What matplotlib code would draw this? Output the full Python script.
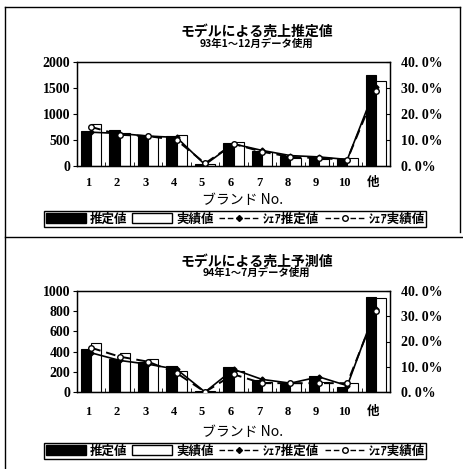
import matplotlib
matplotlib.use("Agg")
import matplotlib.pyplot as plt
from matplotlib.lines import Line2D
from matplotlib.patches import Patch
import numpy as np

plt.rcParams['font.family'] = ['Noto Sans CJK JP', 'DejaVu Sans']

categories = ['1', '2', '3', '4', '5', '6', '7', '8', '9', '10', '他']

# Panel 1: 93年1～12月
est1 = [680, 690, 600, 580, 30, 435, 290, 200, 150, 140, 1745]
act1 = [800, 640, 580, 590, 40, 465, 270, 160, 130, 150, 1630]
share_est1 = [13.0, 12.5, 11.5, 11.0, 0.5, 8.5, 6.0, 4.0, 3.5, 2.5, 30.5]
share_act1 = [15.0, 12.0, 11.5, 10.0, 1.0, 8.5, 5.5, 3.5, 3.0, 2.5, 29.0]

# Panel 2: 94年1～7月
est2 = [425, 330, 300, 262, 5, 243, 122, 78, 160, 50, 940]
act2 = [490, 390, 330, 212, 10, 205, 96, 92, 100, 93, 930]
share_est2 = [15.5, 12.5, 11.0, 9.0, 0.0, 9.0, 5.0, 3.5, 6.0, 2.5, 33.0]
share_act2 = [17.5, 14.0, 12.0, 7.5, 0.0, 7.0, 3.5, 3.5, 3.5, 3.5, 32.0]

left_ticks1 = [0, 500, 1000, 1500, 2000]
left_ticks2 = [0, 200, 400, 600, 800, 1000]
right_ticks = [0, 10, 20, 30, 40]

titles = [("モデルによる売上推定値", "93年1～12月データ使用"),
          ("モデルによる売上予測値", "94年1～7月データ使用")]
legend_labels = ['推定値', '実績値', 'ｼｪｱ推定値', 'ｼｪｱ実績値']

W, H = 463, 469
fig = plt.figure(figsize=(W / 100, H / 100), dpi=100)

num_font = ['Liberation Serif', 'Noto Sans CJK JP']


def fx(px):
    return px / W


def fy(py):
    return 1 - py / H


def panel(top_px, bot_px, est, act, se, sa, lticks, title, sub, title_y, sub_y,
          tick_y, xlabel_y, leg_top, leg_bot):
    ax = fig.add_axes([fx(77), fy(bot_px), fx(390) - fx(77), fy(top_px) - fy(bot_px)])
    x = np.arange(len(categories))
    bw = 0.36
    ax.bar(x - bw / 2, est, bw, color='black', edgecolor='black', linewidth=0.8, zorder=2)
    ax.bar(x + bw / 2, act, bw, color='white', edgecolor='black', linewidth=0.8, zorder=2)
    ax.set_xlim(-0.5, len(categories) - 0.5)
    ax.set_ylim(lticks[0], lticks[-1])
    ax.set_yticks(lticks)
    ax.set_yticklabels([str(v) for v in lticks], fontsize=10, fontweight='bold',
                       family=num_font)
    ax.set_xticks(x)
    ax.set_xticklabels([])
    ax.set_xticks(np.arange(len(categories) + 1) - 0.5, minor=True)
    ax.tick_params(axis='x', which='major', length=0)
    ax.tick_params(axis='x', which='minor', direction='in', length=3)
    ax.tick_params(axis='y', direction='out', length=3, pad=2)
    for i, c in enumerate(categories):
        fig.text((77 + (i + 0.5) * 313 / 11 - 3) / W,
                 fy(tick_y), c, ha='center', va='center', fontsize=9, fontweight='bold',
                 family=num_font)
    for s in ax.spines.values():
        s.set_linewidth(1.0)

    ax2 = ax.twinx()
    ax2.plot(x, se, color='black', lw=1.2, ls='-', marker='D', ms=2.5,
             mfc='black', zorder=3)
    ax2.plot(x, sa, color='black', lw=1.4, ls=(0, (5, 3)), marker='o', ms=4,
             mfc='white', mec='black', zorder=3)
    ax2.set_ylim(0, 40)
    ax2.set_yticks(right_ticks)
    ax2.set_yticklabels([f"{v:.1f}".replace('.', '. ') + '%' for v in right_ticks],
                        fontsize=10, fontweight='bold', family=num_font)
    ax2.tick_params(axis='y', direction='in', length=3, pad=8)
    ax2.set_xlim(-0.5, len(categories) - 0.5)

    fig.text(fx(257), fy(title_y), title, ha='center', va='center', fontsize=10,
             fontweight='bold')
    fig.text(fx(256), fy(sub_y), sub, ha='center', va='center', fontsize=7.5,
             fontweight='bold')
    fig.text(fx(243), fy(xlabel_y), 'ブランド No.', ha='center', va='center',
             fontsize=10)

    handles = [Patch(facecolor='black', edgecolor='black'),
               Patch(facecolor='white', edgecolor='black'),
               Line2D([], [], color='black', lw=1, ls=(0, (4, 2)), marker='D', ms=3),
               Line2D([], [], color='black', lw=1, ls=(0, (4, 2)), marker='o', ms=4,
                      mfc='white')]
    fig.legend(handles, legend_labels, loc='center',
               bbox_to_anchor=(fx(38), fy(leg_bot), fx(432) - fx(38), fy(leg_top) - fy(leg_bot)),
               bbox_transform=fig.transFigure, ncol=4, mode='expand', fancybox=False,
               edgecolor='black', framealpha=1, borderpad=0.1, handlelength=3.2,
               handleheight=0.8, columnspacing=0.8, handletextpad=0.3,
               prop={'size': 9, 'weight': 'bold'})
    return ax


panel(62, 166, est1, act1, share_est1, share_act1, left_ticks1, titles[0][0], titles[0][1],
      32, 44, 183, 200, 210, 228)
panel(291, 392, est2, act2, share_est2, share_act2, left_ticks2, titles[1][0], titles[1][1],
      262, 273, 412, 432, 440, 462)

# outer frame lines
fig.add_artist(Line2D([fx(5), fx(5)], [fy(7), fy(469)], color='black', lw=1.0,
                      transform=fig.transFigure))
fig.add_artist(Line2D([fx(5), fx(460)], [fy(7), fy(7)], color='black', lw=1.0,
                      transform=fig.transFigure))
fig.add_artist(Line2D([fx(460), fx(460)], [fy(7), fy(232)], color='black', lw=1.0,
                      transform=fig.transFigure))
fig.add_artist(Line2D([fx(5), fx(463)], [fy(237), fy(237)], color='black', lw=1.0,
                      transform=fig.transFigure))

fig.savefig('out.png', dpi=100)
